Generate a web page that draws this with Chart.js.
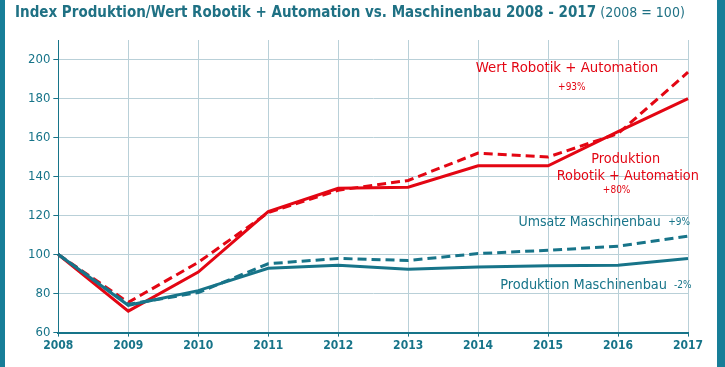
<!DOCTYPE html>
<html>
<head>
<meta charset="utf-8">
<script src="https://cdn.jsdelivr.net/npm/chart.js@4"></script>
<style>
  html, body { margin: 0; padding: 0; background: #fff; }
  #wrap { position: relative; width: 725px; height: 367px; box-sizing: border-box;
          border-left: 5px solid #177e98; border-right: 8px solid #177e98; }
  #title { position: absolute; left: 10px; top: 3px; font-family: "DejaVu Sans Condensed", "DejaVu Sans", sans-serif;
           font-size: 15px; color: #1f7184; white-space: nowrap; }
  #title b { font-weight: bold; }
  #title span { font-size: 14px; }
  #box { position: absolute; left: 0; top: 0; width: 712px; height: 367px; }
</style>
</head>
<body>
<div id="wrap">
  <div id="box"><canvas id="myChart"></canvas></div>
  <div id="title"><b>Index Produktion/Wert Robotik + Automation vs. Maschinenbau 2008 - 2017</b> <span>(2008 = 100)</span></div>
</div>
<script>
const years = ['2008', '2009', '2010', '2011', '2012', '2013', '2014', '2015', '2016', '2017'];
const prodRobotik = [100, 71, 91, 122, 134, 134.5, 145.5, 145.5, 163, 180];
const wertRobotik = [100, 75.5, 96, 121.5, 133, 138, 152, 150, 162, 193.5];
const prodMaschinenbau = [100, 74, 81.5, 93, 94.5, 92.5, 93.6, 94.3, 94.5, 98];
const umsatzMaschinenbau = [100, 74.5, 80.5, 95.3, 98, 97, 100.5, 102.2, 104.3, 109.4];
const yTicks = [60, 80, 100, 120, 140, 160, 180, 200];

const red = '#e30613';
const teal = '#177489';
const gridColor = '#b9d0d8';

// text labels drawn on the chart at data positions
const notes = [
  { text: 'Wert Robotik + Automation', x: 7.27, y: 195.4, size: 14.8, color: red, align: 'center' },
  { text: '+93%', x: 7.34, y: 185.6, size: 10, color: red, align: 'center' },
  { text: 'Produktion', x: 8.11, y: 148.9, size: 14.3, color: red, align: 'center' },
  { text: 'Robotik + Automation', x: 8.14, y: 139.9, size: 14.3, color: red, align: 'center' },
  { text: '+80%', x: 7.98, y: 132.7, size: 10, color: red, align: 'center' },
  { text: 'Umsatz Maschinenbau', x: 8.61, y: 116.3, size: 14, color: teal, align: 'right' },
  { text: '+9%', x: 9.03, y: 116.3, size: 10, color: teal, align: 'right' },
  { text: 'Produktion Maschinenbau', x: 8.7, y: 84.2, size: 14.4, color: teal, align: 'right' },
  { text: '-2%', x: 9.05, y: 84.2, size: 10, color: teal, align: 'right' }
];

const notesPlugin = {
  id: 'notes',
  afterDatasetsDraw(chart) {
    const c = chart.ctx;
    const xs = chart.scales.x, ys = chart.scales.y;
    c.save();
    c.textBaseline = 'middle';
    notes.forEach(n => {
      c.font = n.size + 'px "DejaVu Sans Condensed", "DejaVu Sans", sans-serif';
      c.fillStyle = n.color;
      c.textAlign = n.align;
      c.fillText(n.text, xs.getPixelForValue(n.x), ys.getPixelForValue(n.y));
    });
    c.restore();
  }
};

function line(data, color, dashed) {
  return {
    data: data,
    borderColor: color,
    backgroundColor: color,
    borderWidth: 3,
    borderDash: dashed ? [9, 5] : [],
    pointRadius: 0,
    tension: 0,
    fill: false
  };
}

new Chart(document.getElementById('myChart'), {
  type: 'line',
  data: {
    labels: years,
    datasets: [
      line(umsatzMaschinenbau, teal, true),
      line(prodMaschinenbau, teal, false),
      line(wertRobotik, red, true),
      line(prodRobotik, red, false)
    ]
  },
  options: {
    responsive: true,
    maintainAspectRatio: false,
    animation: false,
    layout: { padding: { top: 40, right: 29, left: 20, bottom: 12 } },
    plugins: { legend: { display: false }, tooltip: { enabled: false } },
    scales: {
      x: {
        type: 'category',
        offset: false,
        border: { color: teal, width: 2 },
        grid: { color: gridColor, tickColor: teal, tickLength: 4, lineWidth: 1 },
        ticks: { color: teal, maxRotation: 0, autoSkip: false, padding: 2,
                 font: { family: '"DejaVu Sans Condensed", "DejaVu Sans", sans-serif', size: 12, weight: 'bold' } }
      },
      y: {
        min: 60,
        max: 210,
        border: { color: teal, width: 1 },
        grid: { color: gridColor, tickColor: teal, tickLength: 5 },
        afterBuildTicks(scale) {
          scale.ticks = yTicks.map(v => ({ value: v }));
        },
        ticks: { color: teal, padding: 3,
                 font: { family: '"DejaVu Sans Condensed", "DejaVu Sans", sans-serif', size: 13 } }
      }
    }
  },
  plugins: [notesPlugin]
});
</script>
</body>
</html>
